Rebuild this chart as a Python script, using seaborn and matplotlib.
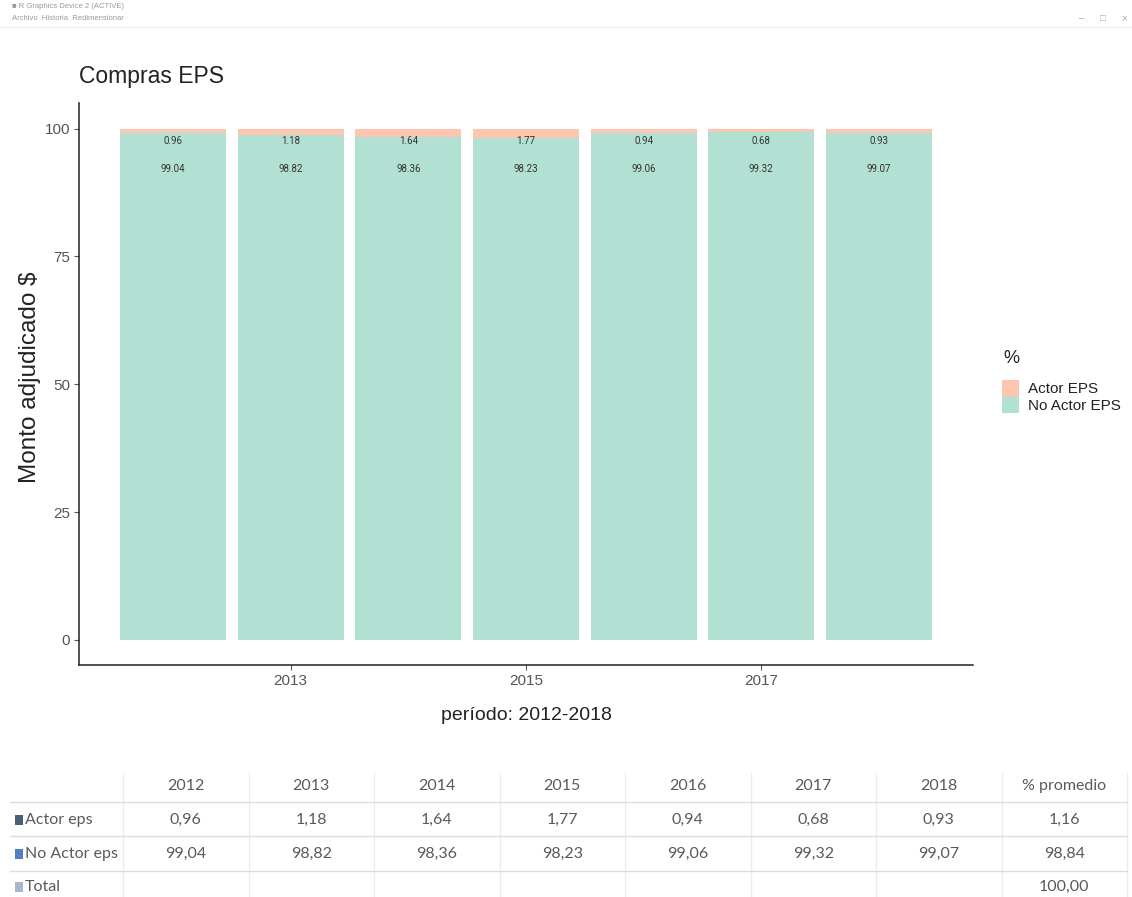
import matplotlib
matplotlib.use("Agg")
import matplotlib.pyplot as plt
from matplotlib.patches import Patch, Rectangle
from matplotlib.lines import Line2D
import seaborn as sns
import pandas as pd

# ---------------- data ----------------
years = [2012, 2013, 2014, 2015, 2016, 2017, 2018]
actor_eps = [0.96, 1.18, 1.64, 1.77, 0.94, 0.68, 0.93]
no_actor_eps = [99.04, 98.82, 98.36, 98.23, 99.06, 99.32, 99.07]
actor_label = ["0.96", "1.18", "1.64", "1.77", "0.94", "0.68", "0.93"]
no_actor_label = ["99.04", "98.82", "98.36", "98.23", "99.06", "99.32", "99.07"]
series_names = ["Actor EPS", "No Actor EPS"]
x_ticks = [2013, 2015, 2017]
y_ticks = [0, 25, 50, 75, 100]

table_header = ["2012", "2013", "2014", "2015", "2016", "2017", "2018", "% promedio"]
table_rows = ["Actor eps", "No Actor eps", "Total"]
table_actor = ["0,96", "1,18", "1,64", "1,77", "0,94", "0,68", "0,93", "1,16"]
table_no_actor = ["99,04", "98,82", "98,36", "98,23", "99,06", "99,32", "99,07", "98,84"]
table_total = ["", "", "", "", "", "", "", "100,00"]

# ---------------- style ----------------
sns.set_theme(style="white")
plt.rcParams["font.family"] = ["Liberation Sans", "DejaVu Sans"]

col_actor = "#FDC6B0"
col_no = "#B2E0D2"

W, H = 1132, 897
fig = plt.figure(figsize=(W / 100, H / 100), dpi=100)
fig.patch.set_facecolor("white")

def fx(px):
    return px / W

def fy(py):
    return 1 - py / H

ax = fig.add_axes([fx(79), fy(665), fx(973) - fx(79), fy(103.5) - fy(665)])
ax.set_facecolor("white")

df = pd.DataFrame({
    "year": years,
    "actor": actor_eps,
    "no_actor": no_actor_eps,
})
df["total"] = df["actor"] + df["no_actor"]

sns.barplot(data=df, x="year", y="total", native_scale=True, width=0.9,
            color=col_actor, saturation=1, errorbar=None, linewidth=0, ax=ax)
sns.barplot(data=df, x="year", y="no_actor", native_scale=True, width=0.9,
            color=col_no, saturation=1, errorbar=None, linewidth=0, ax=ax)

for yr, la, lb in zip(years, actor_label, no_actor_label):
    ax.text(yr, 97.6, la, ha="center", va="center", fontsize=7,
            color="#333333", family=["Roboto", "Liberation Sans"])
    ax.text(yr, 92.0, lb, ha="center", va="center", fontsize=7,
            color="#333333", family=["Roboto", "Liberation Sans"])

ax.set_xlim(2011.2, 2018.8)
ax.set_ylim(-4.9, 104.9)
ax.set_xticks(x_ticks)
ax.set_xticklabels([str(t) for t in x_ticks])
ax.set_yticks(y_ticks)
ax.set_yticklabels([str(t) for t in y_ticks])
ax.tick_params(axis="both", which="both", length=3.5, width=0.8, color="#555555",
               labelcolor="#555555", labelsize=11, pad=3, bottom=True, left=True)
for s in ["top", "right"]:
    ax.spines[s].set_visible(False)
for s in ["left", "bottom"]:
    ax.spines[s].set_color("#222222")
    ax.spines[s].set_linewidth(1.1)
ax.grid(False)
ax.set_xlabel("")
ax.set_ylabel("")

fig.text(fx(30), fy(377), "Monto adjudicado $", rotation=90, ha="center", va="center",
         fontsize=17.5, color="#222222")
fig.text(fx(526), fy(716), "período: 2012-2018", ha="center", va="center",
         fontsize=14, color="#222222")
fig.text(fx(79), fy(77), "Compras EPS", ha="left", va="center",
         fontsize=16.5, color="#222222")

# legend
handles = [Patch(facecolor=col_actor, edgecolor="none", label=series_names[0]),
           Patch(facecolor=col_no, edgecolor="none", label=series_names[1])]
fig.text(fx(1003), fy(358), "%", ha="left", va="center", fontsize=13, color="#222222")
leg = ax.legend(handles=handles, loc="upper left",
                bbox_to_anchor=(fx(1002), fy(380)), bbox_transform=fig.transFigure,
                frameon=False, fontsize=11, handlelength=1.1,
                handleheight=1.3, labelspacing=0.0, handletextpad=0.6,
                borderpad=0, borderaxespad=0)
for t in leg.get_texts():
    t.set_color("#222222")

# window header (screenshot chrome)
fig.text(fx(12), fy(7), "■ R Graphics Device 2 (ACTIVE)", fontsize=5.5, color="#9a9a9a",
         ha="left", va="center")
fig.text(fx(12), fy(19), "Archivo  Historia  Redimensionar", fontsize=5.5, color="#9a9a9a",
         ha="left", va="center")
for xp, ch in [(1082, "–"), (1103, "□"), (1124, "×")]:
    fig.text(fx(xp), fy(18), ch, fontsize=7, color="#aaaaaa", ha="center", va="center")
fig.add_artist(Line2D([fx(0), fx(W)], [fy(27), fy(27)], color="#f0f0f0", lw=0.8))

# ---------------- table ----------------
tfam = ["Lato", "Liberation Sans", "DejaVu Sans"]
tcol = "#5a5a5a"
grid_col = "#dcdcdc"
tsize = 11.5
col_edges = [123, 248.5, 374, 499.5, 625, 750.5, 876, 1001.5, 1127]
row_lines = [802, 836, 871]
row_centers = [820, 854, 887]
header_y = 786

for xe in col_edges:
    fig.add_artist(Line2D([fx(xe), fx(xe)], [fy(773), fy(897)], color="#ececec", lw=1.0))
for yl in row_lines:
    fig.add_artist(Line2D([fx(10), fx(1127)], [fy(yl), fy(yl)], color=grid_col, lw=1.0))

for i, h in enumerate(table_header):
    xc = (col_edges[i] + col_edges[i + 1]) / 2
    fig.text(fx(xc), fy(header_y), h, ha="center", va="center", fontsize=tsize,
             color=tcol, family=tfam)

square_cols = ["#4a5f7a", "#4f81bd", "#a7b8cc"]
for r, (name, vals) in enumerate(zip(table_rows, [table_actor, table_no_actor, table_total])):
    yc = row_centers[r]
    fig.add_artist(Rectangle((fx(15), fy(yc + 5)), fx(8), fy(yc - 5) - fy(yc + 5),
                             facecolor=square_cols[r], edgecolor="none",
                             transform=fig.transFigure))
    fig.text(fx(25), fy(yc), name, ha="left", va="center", fontsize=tsize,
             color=tcol, family=tfam)
    for i, v in enumerate(vals):
        if v:
            xc = (col_edges[i] + col_edges[i + 1]) / 2
            fig.text(fx(xc), fy(yc), v, ha="center", va="center", fontsize=tsize,
                     color=tcol, family=tfam)

fig.savefig("out.png", dpi=100, facecolor="white")
